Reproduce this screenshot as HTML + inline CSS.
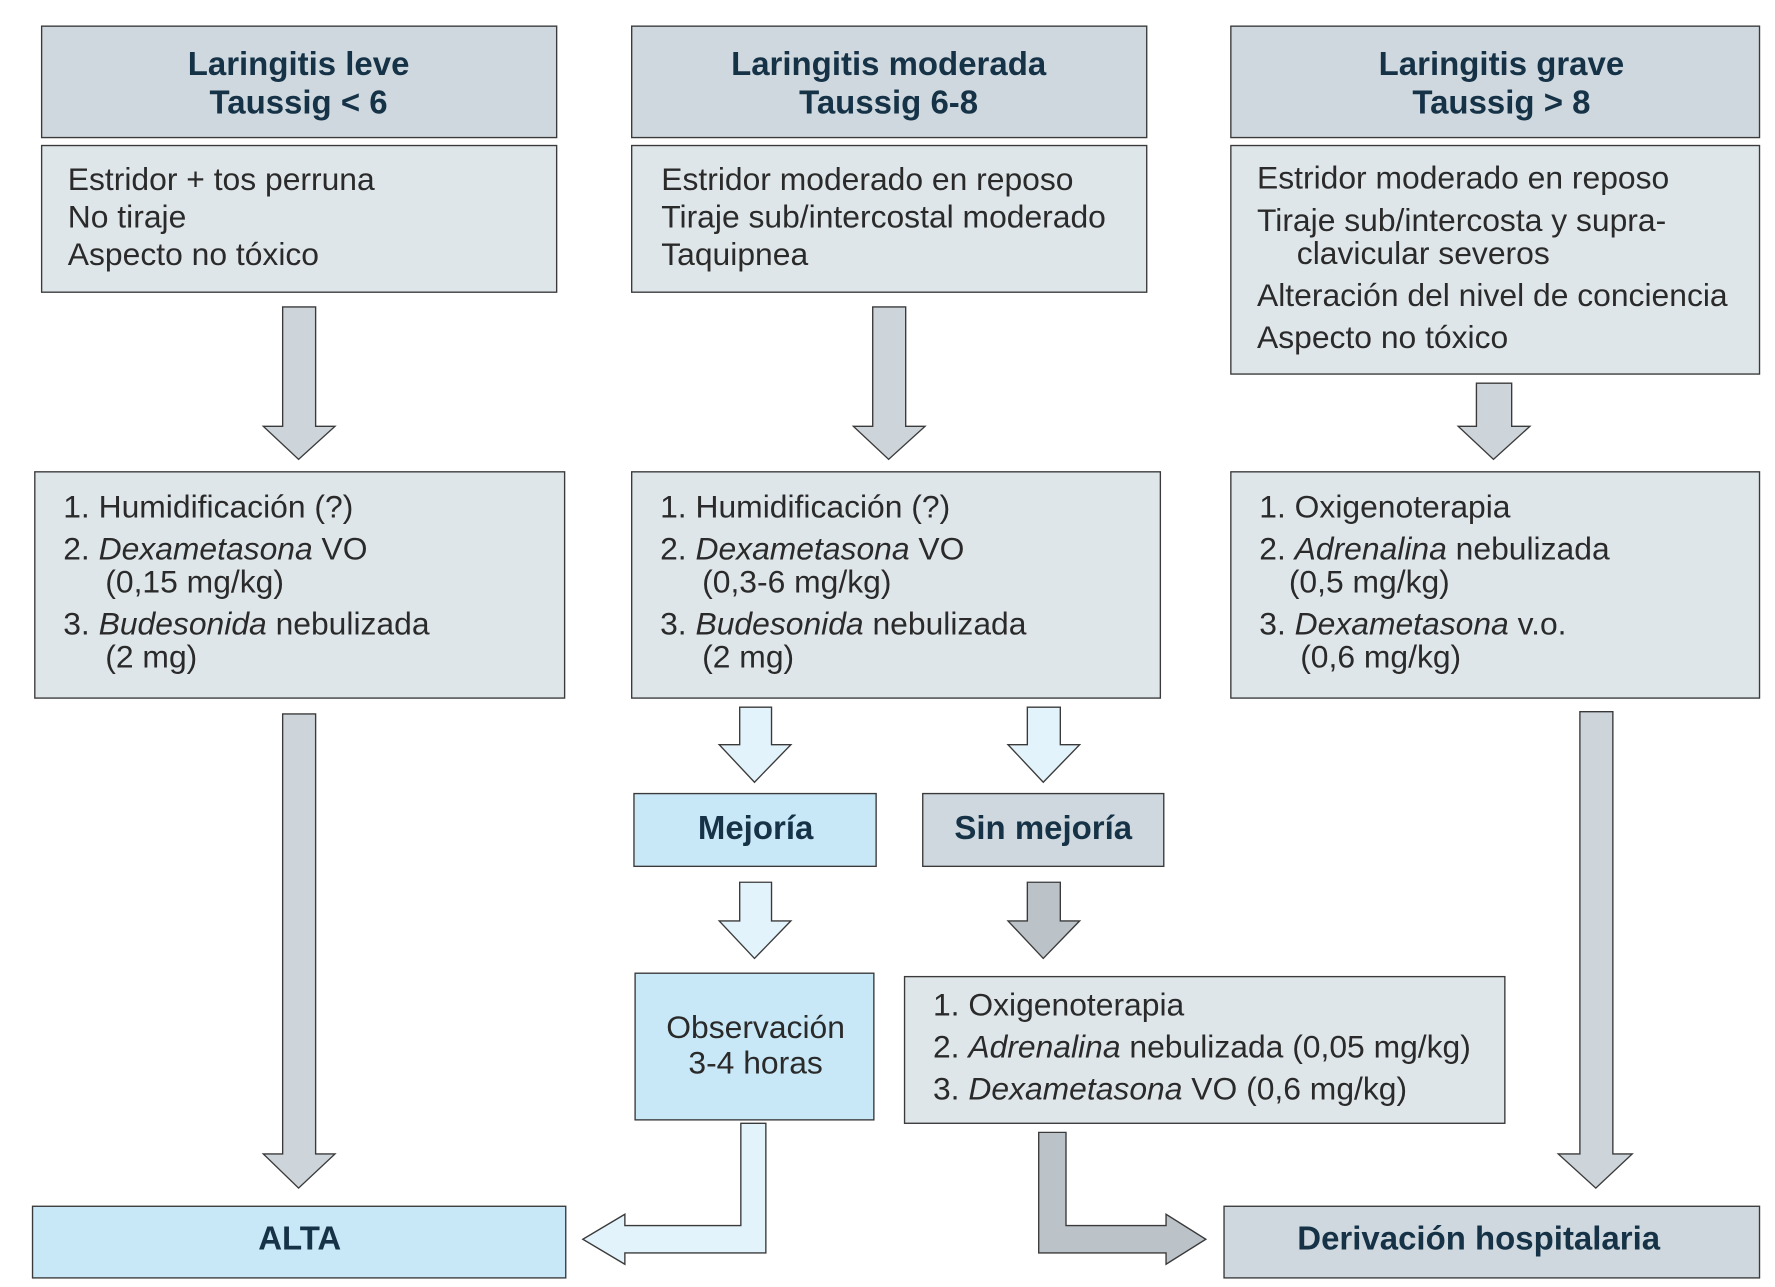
<!DOCTYPE html>
<html><head><meta charset="utf-8"><style>
html,body{margin:0;padding:0;background:#fff}
svg{display:block}
.h{font-family:"Liberation Sans Narrow","Liberation Sans",sans-serif;font-weight:bold;font-size:29px;fill:#163247;text-anchor:middle}
.t{font-family:"Liberation Sans Narrow","Liberation Sans",sans-serif;font-size:28px;fill:#2a2a2a}
.b{stroke:#3a3a3a;stroke-width:1.2}
</style></head><body>
<svg width="1775" height="1287" viewBox="0 0 1560 1132" xmlns="http://www.w3.org/2000/svg">
<rect width="1560" height="1132" fill="#fff"/>
<!-- headers -->
<rect class="b" x="36" y="23" width="453" height="98" fill="#cfd8de"/>
<rect class="b" x="555" y="23" width="453" height="98" fill="#cfd8de"/>
<rect class="b" x="1082" y="23" width="465" height="98" fill="#cfd8de"/>
<text class="h" x="262" y="66">Laringitis leve</text><text class="h" x="262" y="100">Taussig &lt; 6</text>
<text class="h" x="781" y="66">Laringitis moderada</text><text class="h" x="781" y="100">Taussig 6-8</text>
<text class="h" x="1320" y="66">Laringitis grave</text><text class="h" x="1320" y="100">Taussig &gt; 8</text>
<!-- descriptions -->
<rect class="b" x="36" y="128" width="453" height="129" fill="#dfe6ea"/>
<rect class="b" x="555" y="128" width="453" height="129" fill="#dfe6ea"/>
<rect class="b" x="1082" y="128" width="465" height="201" fill="#dfe6ea"/>
<text class="t" x="59" y="167">Estridor + tos perruna</text>
<text class="t" x="59" y="200">No tiraje</text>
<text class="t" x="59" y="233">Aspecto no tóxico</text>
<text class="t" x="581" y="167">Estridor moderado en reposo</text>
<text class="t" x="581" y="200">Tiraje sub/intercostal moderado</text>
<text class="t" x="581" y="233">Taquipnea</text>
<text class="t" x="1105" y="166">Estridor moderado en reposo</text>
<text class="t" x="1105" y="203">Tiraje sub/intercosta y supra-</text>
<text class="t" x="1140" y="232">clavicular severos</text>
<text class="t" x="1105" y="269">Alteración del nivel de conciencia</text>
<text class="t" x="1105" y="306">Aspecto no tóxico</text>
<!-- arrows top -->
<g class="b" fill="#cdd5da">
<polygon points="248,270 277,270 277,375 294,375 262,404 231,375 248,375"/>
<polygon points="767,270 796,270 796,375 813,375 781,404 750,375 767,375"/>
<polygon points="1298,337 1329,337 1329,375 1345,375 1313,404 1282,375 1298,375"/>
<polygon points="248,628 277,628 277,1015 294,1015 262,1045 231,1015 248,1015"/>
<polygon points="1389,626 1418,626 1418,1015 1435,1015 1403,1045 1370,1015 1389,1015"/>
</g>
<!-- treatments -->
<rect class="b" x="30" y="415" width="466" height="199" fill="#dfe6ea"/>
<rect class="b" x="555" y="415" width="465" height="199" fill="#dfe6ea"/>
<rect class="b" x="1082" y="415" width="465" height="199" fill="#dfe6ea"/>
<text class="t" x="55" y="455">1. Humidificación (?)</text>
<text class="t" x="55" y="492">2. <tspan font-style="italic">Dexametasona</tspan> VO</text>
<text class="t" x="92" y="521">(0,15 mg/kg)</text>
<text class="t" x="55" y="558">3. <tspan font-style="italic">Budesonida</tspan> nebulizada</text>
<text class="t" x="92" y="587">(2 mg)</text>
<text class="t" x="580" y="455">1. Humidificación (?)</text>
<text class="t" x="580" y="492">2. <tspan font-style="italic">Dexametasona</tspan>  VO</text>
<text class="t" x="617" y="521">(0,3-6 mg/kg)</text>
<text class="t" x="580" y="558">3. <tspan font-style="italic">Budesonida</tspan> nebulizada</text>
<text class="t" x="617" y="587">(2 mg)</text>
<text class="t" x="1107" y="455">1. Oxigenoterapia</text>
<text class="t" x="1107" y="492">2. <tspan font-style="italic">Adrenalina</tspan> nebulizada</text>
<text class="t" x="1133" y="521">(0,5 mg/kg)</text>
<text class="t" x="1107" y="558">3. <tspan font-style="italic">Dexametasona</tspan> v.o.</text>
<text class="t" x="1143" y="587">(0,6 mg/kg)</text>
<!-- small arrows -->
<g class="b" fill="#e3f3fb">
<polygon points="650,622 678,622 678,655 695,655 663,688 632,655 650,655"/>
<polygon points="903,622 932,622 932,655 949,655 917,688 886,655 903,655"/>
<polygon points="650,776 678,776 678,810 695,810 663,843 632,810 650,810"/>
<polygon points="651,988 673,988 673,1102 549,1102 549,1112 512,1090 549,1068 549,1078 651,1078"/>
</g>
<g class="b" fill="#bcc3c8">
<polygon points="903,776 932,776 932,810 949,810 917,843 886,810 903,810"/>
<polygon points="913,996 937,996 937,1078 1025,1078 1025,1068 1060,1090 1025,1112 1025,1102 913,1102"/>
</g>
<rect class="b" x="557" y="698" width="213" height="64" fill="#c8e8f7"/>
<rect class="b" x="811" y="698" width="212" height="64" fill="#cfd8de"/>
<text class="h" x="664" y="738">Mejoría</text>
<text class="h" x="917" y="738">Sin mejoría</text>
<rect class="b" x="558" y="856" width="210" height="129" fill="#c8e8f7"/>
<text class="t" x="664" y="913" text-anchor="middle">Observación</text>
<text class="t" x="664" y="944" text-anchor="middle">3-4 horas</text>
<rect class="b" x="795" y="859" width="528" height="129" fill="#dfe6ea"/>
<text class="t" x="820" y="893">1. Oxigenoterapia</text>
<text class="t" x="820" y="930">2. <tspan font-style="italic">Adrenalina</tspan> nebulizada (0,05 mg/kg)</text>
<text class="t" x="820" y="967">3. <tspan font-style="italic">Dexametasona</tspan> VO (0,6 mg/kg)</text>
<rect class="b" x="28" y="1061" width="469" height="63" fill="#c8e8f7"/>
<rect class="b" x="1076" y="1061" width="471" height="63" fill="#cfd8de"/>
<text class="h" x="263" y="1099">ALTA</text>
<text class="h" x="1300" y="1099">Derivación hospitalaria</text>
</svg>
</body></html>
